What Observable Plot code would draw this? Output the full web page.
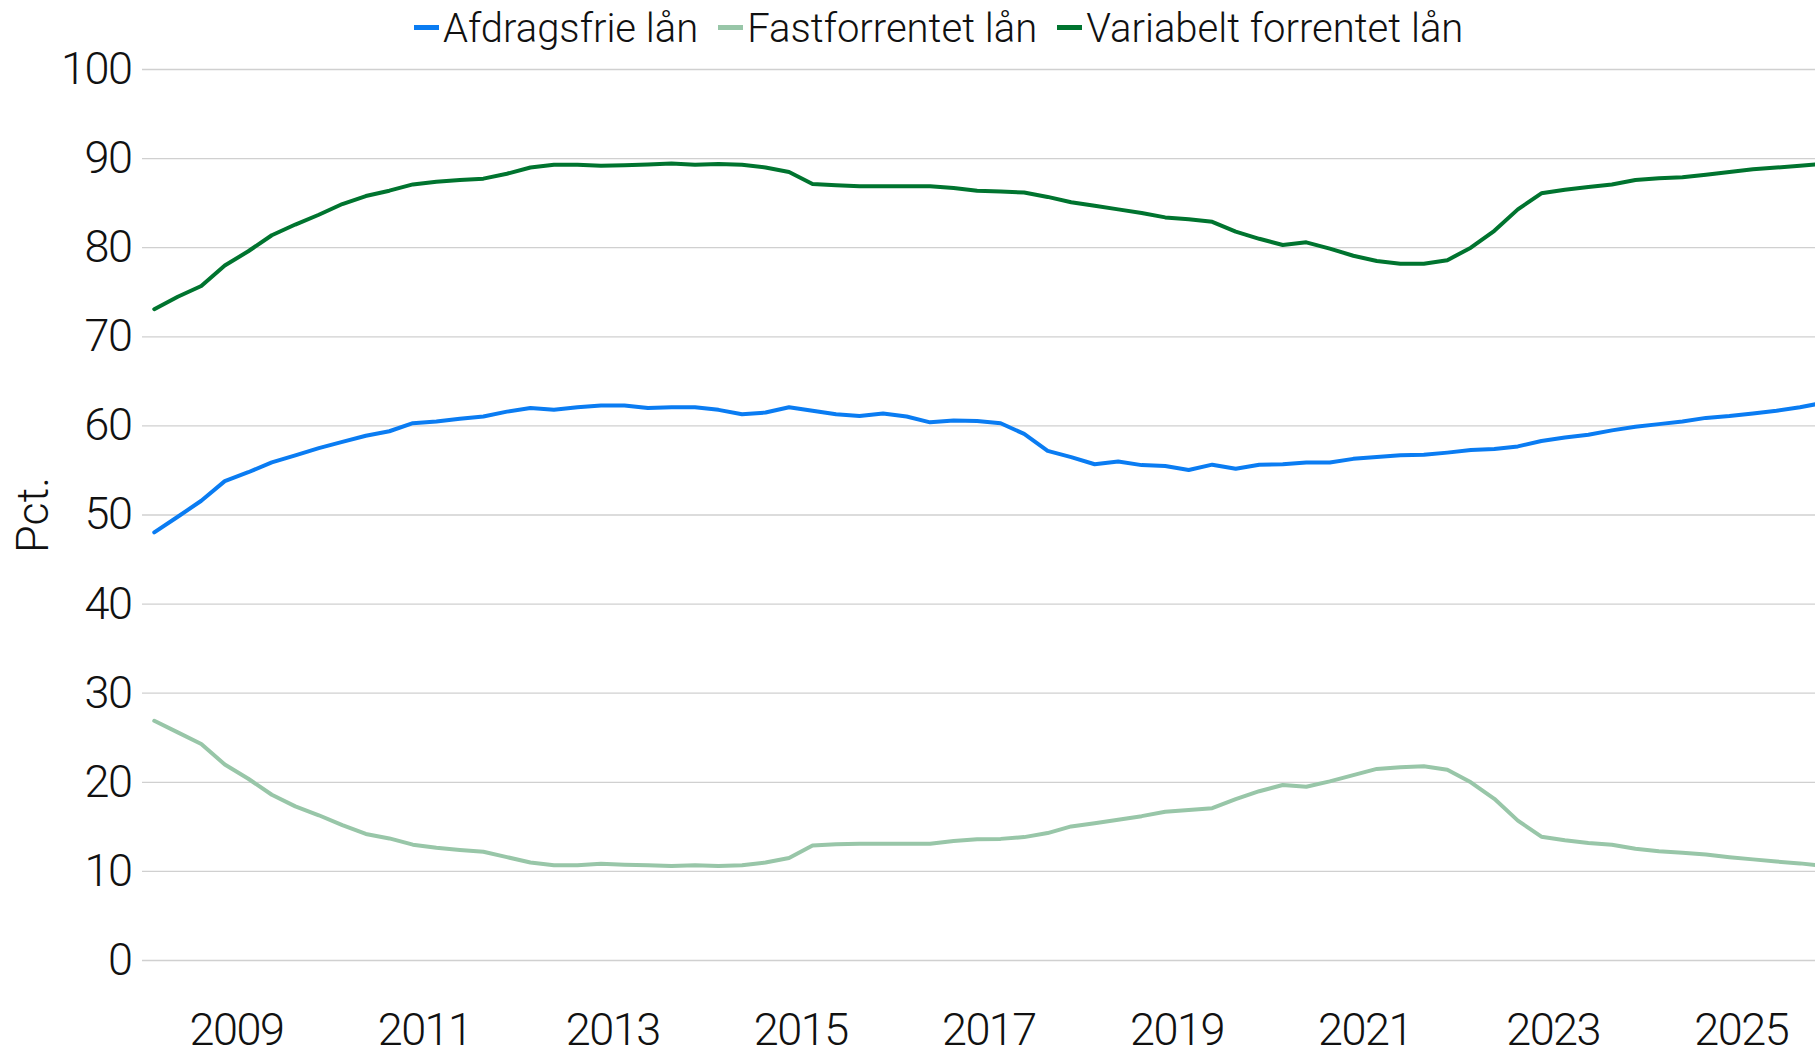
<!DOCTYPE html>
<html>
<head>
<meta charset="utf-8">
<script src="https://cdn.jsdelivr.net/npm/d3@7"></script>
<script src="https://cdn.jsdelivr.net/npm/@observablehq/plot@0.6"></script>
<style>
  html, body { margin: 0; padding: 0; background: #fff; overflow: hidden; }
  #wrap { position: relative; width: 1815px; height: 1051px; }
  #legend {
    position: absolute; top: 0; left: 0; z-index: 2;
    height: 50px; padding-top: 4px; line-height: 50px;
    font-family: Roboto, "Open Sans", sans-serif; font-weight: 300; font-size: 40px;
    color: #111; display: flex; padding-left: 414px; white-space: nowrap;
  }
  .item { display: flex; align-items: center; margin-right: 20px; }
  .sw { width: 25px; height: 5px; margin-right: 4px; position: relative; top: -2px; }
  #chart { position: absolute; top: 0; left: 0; }
</style>
</head>
<body>
<div id="wrap">
<div id="chart"></div>
<div id="legend"></div>
</div>
<script>
// Series names and colours
const series = ["Afdragsfrie lån", "Fastforrentet lån", "Variabelt forrentet lån"];
const colors = ["#0a7cf2", "#98c6a8", "#00742f"];

// Quarterly observations, first quarter = 2008 K1, last = 2025 K4
const startYear = 2008;

const afdragsfrie = [
  48.05, 49.8, 51.6, 53.8, 54.8, 55.9, 56.7, 57.5, 58.2, 58.9, 59.4, 60.3,
  60.5, 60.8, 61.05, 61.6, 62.0, 61.8, 62.1, 62.3, 62.3, 62.0, 62.1, 62.1,
  61.8, 61.3, 61.5, 62.1, 61.7, 61.3, 61.1, 61.4, 61.05, 60.4, 60.6, 60.55,
  60.3, 59.1, 57.2, 56.5, 55.7, 56.0, 55.6, 55.5, 55.05, 55.65, 55.2, 55.65,
  55.7, 55.9, 55.9, 56.3, 56.5, 56.7, 56.75, 57.0, 57.3, 57.4, 57.7, 58.3,
  58.7, 59.0, 59.5, 59.9, 60.2, 60.5, 60.9, 61.1, 61.4, 61.7, 62.1, 62.6
];
const fastforrentet = [
  26.9, 25.6, 24.3, 22.0, 20.4, 18.6, 17.3, 16.3, 15.2, 14.2, 13.7, 13.0,
  12.65, 12.4, 12.2, 11.6, 11.0, 10.7, 10.7, 10.85, 10.75, 10.7, 10.6, 10.7,
  10.6, 10.7, 11.0, 11.5, 12.9, 13.05, 13.1, 13.1, 13.1, 13.1, 13.4, 13.6,
  13.65, 13.85, 14.3, 15.05, 15.4, 15.8, 16.2, 16.7, 16.9, 17.1, 18.1, 19.0,
  19.7, 19.5, 20.1, 20.8, 21.5, 21.7, 21.8, 21.4, 20.0, 18.15, 15.7, 13.9,
  13.5, 13.2, 13.0, 12.55, 12.25, 12.1, 11.9, 11.6, 11.35, 11.1, 10.9, 10.6
];
const variabelt = [
  73.1, 74.5, 75.7, 78.0, 79.6, 81.4, 82.6, 83.7, 84.9, 85.8, 86.4, 87.1,
  87.4, 87.6, 87.75, 88.3, 89.0, 89.3, 89.3, 89.2, 89.25, 89.35, 89.45, 89.3,
  89.4, 89.3, 89.0, 88.5, 87.15, 87.0, 86.9, 86.9, 86.9, 86.9, 86.7, 86.4,
  86.3, 86.2, 85.7, 85.1, 84.7, 84.3, 83.9, 83.4, 83.2, 82.9, 81.8, 81.0,
  80.3, 80.6, 79.9, 79.1, 78.5, 78.2, 78.2, 78.6, 80.0, 81.9, 84.3, 86.1,
  86.5, 86.8, 87.1, 87.6, 87.8, 87.9, 88.2, 88.5, 88.8, 89.0, 89.2, 89.4
];

// Axis ticks
const yTicks = [0, 10, 20, 30, 40, 50, 60, 70, 80, 90, 100];
const xTickYears = [2009, 2011, 2013, 2015, 2017, 2019, 2021, 2023, 2025];
const yLabel = "Pct.";

// Build tidy table (x = middle of each quarter, in years)
const valuesBySeries = [afdragsfrie, fastforrentet, variabelt];
const data = [];
series.forEach((name, k) => {
  valuesBySeries[k].forEach((v, i) => {
    const year = startYear + Math.floor(i / 4);
    const q = i % 4;
    data.push({series: name, t: year + (q + 0.5) / 4, v});
  });
});

// Legend (HTML above the plot area)
const legend = document.getElementById("legend");
series.forEach((name, k) => {
  const it = document.createElement("div");
  it.className = "item";
  const sw = document.createElement("span");
  sw.className = "sw";
  sw.style.background = colors[k];
  const tx = document.createElement("span");
  tx.textContent = name;
  it.appendChild(sw);
  it.appendChild(tx);
  legend.appendChild(it);
});

const chart = Plot.plot({
  width: 1815,
  height: 1051,
  marginLeft: 142,
  marginRight: 0,
  marginTop: 69,
  marginBottom: 91,
  style: {
    fontFamily: "Roboto, 'Open Sans', sans-serif",
    fontSize: "45px",
    fontWeight: 300,
    color: "#111",
    background: "transparent",
    letterSpacing: "-1.5px"
  },
  x: {domain: [2008, 2025.79]},
  y: {domain: [0, 100]},
  color: {domain: series, range: colors},
  marks: [
    Plot.gridY(yTicks, {stroke: "#d0d0d0", strokeOpacity: 1, strokeWidth: 1.3}),
    Plot.axisY(yTicks, {tickSize: 0, tickPadding: 11, label: null}),
    Plot.axisX(xTickYears, {tickSize: 0, tickPadding: 53, label: null, tickFormat: d => String(d)}),
    Plot.line(data, {x: "t", y: "v", z: "series", stroke: "series", strokeWidth: 4, clip: true}),
    Plot.text([yLabel], {text: d => d, frameAnchor: "left", textAnchor: "middle", rotate: -90, dx: -109, fontSize: 45})
  ]
});
// the y label keeps normal spacing
d3.select(chart).selectAll("text").filter(function() { return this.textContent === yLabel; }).style("letter-spacing", "0px");
document.getElementById("chart").appendChild(chart);
</script>
</body>
</html>
